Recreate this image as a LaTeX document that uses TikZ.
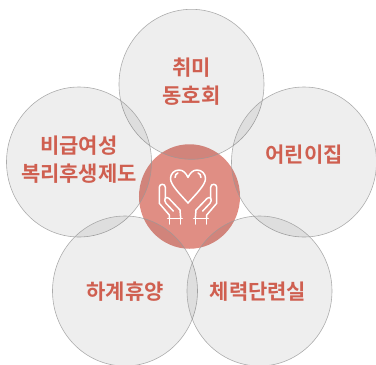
\documentclass[tikz,border=0pt]{standalone}
\usepackage{fontspec}
\usetikzlibrary{shapes.geometric}
\setmainfont{Noto Sans CJK KR Bold}
\definecolor{labelred}{HTML}{CF5F50}
\definecolor{centerred}{HTML}{E08E84}
\tikzset{
  petal/.style={ellipse,draw=black!40,line width=0.6pt,fill=black,fill opacity=0.067,draw opacity=0.8,minimum width=145bp,minimum height=150bp,inner sep=0pt},
  hub/.style={ellipse,fill=centerred,minimum width=101bp,minimum height=104.5bp,inner sep=0pt},
  petaltext/.style={text=labelred,font=\fontsize{21bp}{28bp}\selectfont,align=center,inner sep=0pt},
  iconline/.style={draw=white,line width=1.5bp,line join=round,line cap=round}
}
\begin{document}
\begin{tikzpicture}[x=1bp,y=-1bp]
\useasboundingbox (0,0) rectangle (376,365);
\node[hub] (center) at (189.5,196.5) {};
\node[petal] (top) at (191.5,84.3) {};
\node[petal] (left) at (79,162) {};
\node[petal] (right) at (304,162) {};
\node[petal] (bl) at (125,291) {};
\node[petal] (br) at (259.5,291) {};
\node[petaltext] (t1) at (191.5,82) {취미\\동호회};
\node[petaltext] (t2) at (79,160) {비급여성\\복리후생제도};
\node[petaltext] (t3) at (304,155) {어린이집};
\node[petaltext] (t4) at (125,292) {하계휴양};
\node[petaltext] (t5) at (258,292) {체력단련실};
% icon
\begin{scope}[shift={(188,178)}]
\draw[iconline] (0,-0.5) .. controls (-2,-5) and (-5,-8) .. (-9,-8) .. controls (-14,-8) and (-17.5,-4) .. (-17.5,0.5) .. controls (-17.5,7) and (-8,16) .. (0,25) .. controls (8,16) and (17.5,7) .. (17.5,0.5) .. controls (17.5,-4) and (14,-8) .. (9,-8) .. controls (5,-8) and (2,-5) .. (0,-0.5);
\draw[iconline] (-13,-0.5) .. controls (-13,-3) and (-11.5,-4.5) .. (-10,-5);
\draw[iconline] (13,-0.5) .. controls (13,-3) and (11.5,-4.5) .. (10,-5);
\foreach \s in {1,-1}{
\begin{scope}[xscale=\s]
\draw[iconline] (-18.7,40.3) -- (-18.7,37) -- (-28.7,25.3) -- (-28.7,9.3) .. controls (-28.7,5.3) and (-22.7,5.3) .. (-22.7,9.3) -- (-22.7,20.3);
\draw[iconline] (-14.7,33) -- (-22,25.3) .. controls (-25,21.5) and (-22,17.5) .. (-19,20.5) -- (-8,32) -- (-7.3,40.3);
\draw[iconline] (-20.3,40.3) -- (-5.7,40.3);
\draw[iconline] (-18.5,40.3) -- (-18.5,46);
\draw[iconline] (-7.3,40.3) -- (-7.3,46);
\end{scope}}
\end{scope}
\end{tikzpicture}
\end{document}
